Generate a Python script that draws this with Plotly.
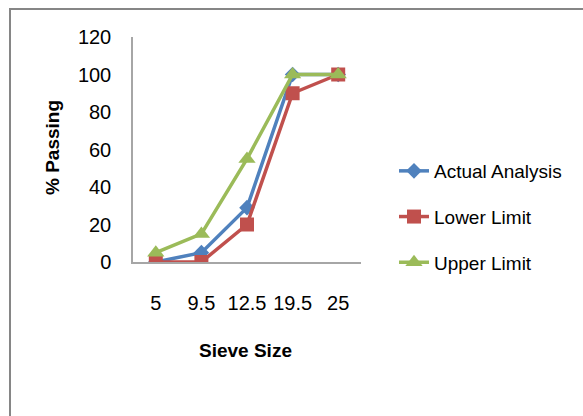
import plotly.graph_objects as go

sieve_sizes = ["5", "9.5", "12.5", "19.5", "25"]
actual_analysis = [0, 5, 29, 100, 100]
lower_limit = [0, 0, 20, 90, 100]
upper_limit = [5, 15, 55, 100, 100]

FONT = "Liberation Sans, Arial, sans-serif"
W, H = 583, 416
L, R, T, B = 133, 222, 37, 154
PW, PH = W - L - R, H - T - B

def px(x):
    return (x - L) / PW

def py(y):
    return (H - B - y) / PH

fig = go.Figure()
series = [
    ("Actual Analysis", actual_analysis, "#4F81BD", "diamond", 12),
    ("Lower Limit", lower_limit, "#C0504D", "square", 14),
    ("Upper Limit", upper_limit, "#9BBB59", "triangle-up", 15),
]
for name, vals, col, sym, sz in series:
    fig.add_trace(go.Scatter(
        x=sieve_sizes, y=vals, name=name, mode="lines+markers",
        line=dict(color=col, width=3.5),
        marker=dict(symbol=sym, size=sz, color=col),
        legendgroup=name,
    ))

fig.update_layout(
    width=W, height=H,
    margin=dict(l=L, r=R, t=T, b=B),
    paper_bgcolor="white", plot_bgcolor="white",
    font=dict(family=FONT, size=19, color="#000000"),
    showlegend=True,
    legend=dict(x=px(394), y=py(217), xanchor="left", yanchor="middle",
                font=dict(size=19), tracegroupgap=18, traceorder="grouped",
                bgcolor="rgba(0,0,0,0)", itemwidth=30),
    xaxis=dict(type="category", range=[-0.5, 4.5], showgrid=False,
               showline=True, linecolor="#A6A6A6", linewidth=1.5,
               ticks="outside", ticklen=22, tickcolor="rgba(0,0,0,0)",
               tickfont=dict(size=20), zeroline=False),
    yaxis=dict(range=[0, 120], dtick=20, showgrid=False,
               showline=True, linecolor="#A6A6A6", linewidth=1.5,
               ticks="outside", ticklen=16, tickcolor="rgba(0,0,0,0)",
               tickfont=dict(size=20), zeroline=False),
    shapes=[dict(type="rect", xref="paper", yref="paper",
                 x0=px(10), y0=py(600), x1=px(900), y1=py(9),
                 line=dict(color="#868686", width=2), layer="below")],
    annotations=[
        dict(text="<b>% Passing</b>", x=px(52), y=py(148), xref="paper", yref="paper",
             xanchor="center", yanchor="middle",
             textangle=-90, showarrow=False, font=dict(size=19)),
        dict(text="<b>Sieve Size</b>", x=px(245), y=py(350), xref="paper", yref="paper",
             xanchor="center", yanchor="middle",
             showarrow=False, font=dict(size=19)),
    ],
)

fig.write_html("out.html")
